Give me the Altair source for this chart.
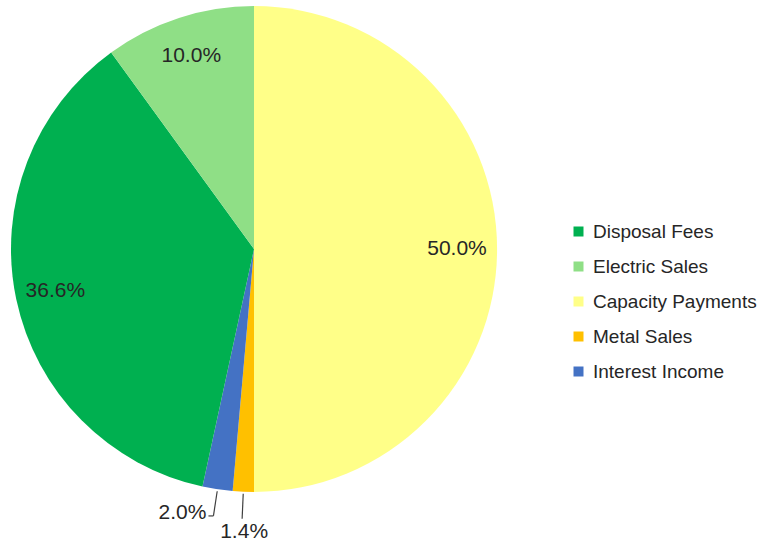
import altair as alt
import pandas as pd

# data (clockwise from 12 o'clock)
categories = ["Capacity Payments", "Metal Sales", "Interest Income", "Disposal Fees", "Electric Sales"]
values = [50.0, 1.4, 2.0, 36.6, 10.0]
labels = ["50.0%", "1.4%", "2.0%", "36.6%", "10.0%"]
legend_order = ["Disposal Fees", "Electric Sales", "Capacity Payments", "Metal Sales", "Interest Income"]
colors = ["#00B050", "#8FDF86", "#FFFF88", "#FFC000", "#4472C4"]

df = pd.DataFrame({"category": categories, "value": values, "label": labels,
                   "ord": list(range(len(categories)))})

CX, CY, R = 254, 249, 243
FONT = "Liberation Sans"
TXT = "#262626"

pie = alt.Chart(df).mark_arc(outerRadius=R).encode(
    theta=alt.Theta("value:Q", stack=True),
    order=alt.Order("ord:Q"),
    color=alt.Color("category:N",
                    scale=alt.Scale(domain=legend_order, range=colors),
                    legend=alt.Legend(title=None, orient="none", legendX=569, legendY=222,
                                      symbolType="square", symbolSize=100,
                                      symbolStrokeWidth=0, labelLimit=300,
                                      labelFontSize=19, labelFont=FONT, labelColor=TXT,
                                      labelOffset=5, rowPadding=15)),
    x=alt.value(CX), y=alt.value(CY),
)

geo = alt.Chart(df).transform_window(
    cum="sum(value)", sort=[alt.SortField("ord")], frame=[None, 0]
).transform_joinaggregate(
    total="sum(value)"
).transform_calculate(
    mid="(datum.cum - datum.value/2) / datum.total * 2 * PI"
).transform_calculate(
    ix=f"{CX} + 203*sin(datum.mid)", iy=f"{CY} - 203*cos(datum.mid)",
    ax=f"{CX} + 245*sin(datum.mid)", ay=f"{CY} - 245*cos(datum.mid)",
    bx=f"{CX} + 270*sin(datum.mid)", by=f"{CY} - 270*cos(datum.mid)",
)

px = lambda f: alt.X(f"{f}:Q", scale=None, axis=None)
py = lambda f: alt.Y(f"{f}:Q", scale=None, axis=None)

inside = geo.transform_filter("datum.value >= 5").mark_text(
    fontSize=21, font=FONT, color=TXT, align="center", baseline="middle"
).encode(x=px("ix"), y=py("iy"), text="label:N")

leaders = geo.transform_filter("datum.value < 5").mark_rule(
    color="#404040", strokeWidth=1.2
).encode(x=px("ax"), y=py("ay"), x2="bx:Q", y2="by:Q")

tick = geo.transform_filter("datum.label == '2.0%'").transform_calculate(
    tx="datum.bx - 5"
).mark_rule(color="#404040", strokeWidth=1.2).encode(
    x=px("bx"), y=py("by"), x2="tx:Q", y2="by:Q")

lab_left = geo.transform_filter("datum.label == '2.0%'").mark_text(
    fontSize=21, font=FONT, color=TXT, align="right", baseline="middle", dx=-7, dy=-3
).encode(x=px("bx"), y=py("by"), text="label:N")

lab_below = geo.transform_filter("datum.label == '1.4%'").mark_text(
    fontSize=21, font=FONT, color=TXT, align="center", baseline="top", dx=2, dy=2
).encode(x=px("bx"), y=py("by"), text="label:N")

chart = alt.layer(pie, inside, leaders, tick, lab_left, lab_below).properties(
    width=771, height=548, autosize=alt.AutoSizeParams(type="none"), padding=0
).configure_view(stroke=None)

chart.save("out.html", embed_options={"renderer": "svg", "actions": False})
